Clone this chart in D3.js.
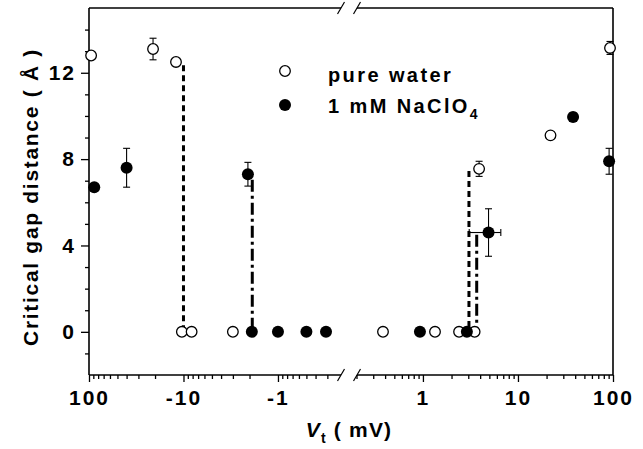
<!DOCTYPE html>
<html>
<head>
<meta charset="utf-8">
<script src="https://cdn.jsdelivr.net/npm/d3@7/dist/d3.min.js"></script>
<style>
  html, body { margin: 0; padding: 0; background: #fff; }
  svg { display: block; }
  text { font-family: Arial, "Liberation Sans", sans-serif; fill: #000; }
</style>
</head>
<body>
<svg id="chart" width="643" height="449"></svg>
<script>
// ---------- data ----------
// pure water (open circles): V_t in mV (signed), critical gap (Å), y-error
const pwV   = [-95, -21, -12, -10.4, -8.2, -3.0, 0.38, 1.34, 2.4, 3.5, 3.9, 22, 93];
const pwGap = [12.8, 13.1, 12.5, 0, 0, 0, 0, 0, 0, 0, 7.55, 9.1, 13.15];
const pwErr = [0, 0.5, 0.15, 0, 0, 0, 0, 0, 0, 0, 0.35, 0.1, 0.3];

// 1 mM NaClO4 (filled circles)
const naV   = [-88, -40, -2.08, -1.89, -1.0, -0.5, -0.31, 0.93, 2.9, 4.9, 38, 91];
const naGap = [6.7, 7.6, 7.3, 0, 0, 0, 0, 0, 0, 4.6, 9.95, 7.9];
const naErr = [0, 0.9, 0.55, 0, 0, 0, 0, 0, 0, 1.1, 0.2, 0.6];
const naXLo = [null, null, null, null, null, null, null, null, null, 3.07, null, null];
const naXHi = [null, null, null, null, null, null, null, null, null, 6.6, null, null];

// vertical transition lines
const pwDropV   = [-10, 3.05];
const pwDropTop = [12.35, 7.45];
const naDropV   = [-1.87, 3.68];
const naDropTop = [7.05, 4.5];

// axis ticks
const xMajorLeft  = [100, 10, 1];          // |V| on negative side
const xMajorLeftLabels = ["100", "-10", "-1"];
const xMajorRight = [1, 10, 100];
const xMajorRightLabels = ["1", "10", "100"];
const xMinorLeft  = [90,80,70,60,50,40,30,20, 9,8,7,6,5,4,3,2, 0.9,0.8,0.7,0.6,0.5,0.4,0.3];
const xMinorRight = [0.2,0.3,0.4,0.5,0.6,0.7,0.8,0.9, 2,3,4,5,6,7,8,9, 20,30,40,50,60,70,80,90];
const yMajor = [0, 4, 8, 12];
const yMinor = [-1, 1, 2, 3, 5, 6, 7, 9, 10, 11, 13, 14];

// ---------- layout ----------
const svg = d3.select("#chart");
const L = 89, R = 613, T = 8, B = 375;

const xl = d3.scaleLog().domain([100, 0.2]).range([L, 344]);
const xr = d3.scaleLog().domain([0.2, 100]).range([356.5, R]);
const xpos = v => v < 0 ? xl(-v) : xr(v);
const y = d3.scaleLinear().domain([-2, 15]).range([B, T]);

const brk1 = xl(0.2) - 3, brk2 = xr(0.2) + 0.5;

// axes (ticks only)
function tickAxis(axis, g) { g.call(axis); g.select(".domain").remove(); }

const fontTick = "bold 21px Arial, 'Liberation Sans', sans-serif";

tickAxis(d3.axisBottom(xl).tickValues(xMajorLeft).tickSize(7).tickPadding(8)
  .tickFormat((d, i) => xMajorLeftLabels[i]),
  svg.append("g").attr("transform", `translate(0,${B})`));
tickAxis(d3.axisBottom(xl).tickValues(xMinorLeft).tickSize(4).tickFormat(""),
  svg.append("g").attr("transform", `translate(0,${B})`));
tickAxis(d3.axisBottom(xr).tickValues(xMajorRight).tickSize(7).tickPadding(8)
  .tickFormat((d, i) => xMajorRightLabels[i]),
  svg.append("g").attr("transform", `translate(0,${B})`));
tickAxis(d3.axisBottom(xr).tickValues(xMinorRight).tickSize(4).tickFormat(""),
  svg.append("g").attr("transform", `translate(0,${B})`));
tickAxis(d3.axisLeft(y).tickValues(yMajor).tickSize(8).tickPadding(5).tickFormat(d3.format("d")),
  svg.append("g").attr("transform", `translate(${L},0)`));
tickAxis(d3.axisLeft(y).tickValues(yMinor).tickSize(4).tickFormat(""),
  svg.append("g").attr("transform", `translate(${L},0)`));

svg.selectAll(".tick line").attr("stroke", "#000").attr("stroke-width", 1.3);
svg.selectAll(".tick text")
  .style("font", fontTick).style("letter-spacing", "2px").attr("fill", "#000");

// frame
const frame = svg.append("g").attr("stroke", "#000").attr("stroke-width", 1.6).attr("fill", "none");
frame.append("line").attr("x1", L).attr("x2", L).attr("y1", T).attr("y2", B);
frame.append("line").attr("x1", R).attr("x2", R).attr("y1", T).attr("y2", B);
[T, B].forEach(yy => {
  frame.append("line").attr("x1", L).attr("x2", brk1).attr("y1", yy).attr("y2", yy);
  frame.append("line").attr("x1", brk2).attr("x2", R).attr("y1", yy).attr("y2", yy);
  [brk1, brk2].forEach(bx => {
    frame.append("line").attr("stroke-width", 1.2)
      .attr("x1", bx - 3.5).attr("y1", yy + 6).attr("x2", bx + 3.5).attr("y2", yy - 6);
  });
});

// transition lines
const lines = svg.append("g");
pwDropV.forEach((v, i) => {
  lines.append("line").attr("x1", xpos(v)).attr("x2", xpos(v))
    .attr("y1", y(pwDropTop[i])).attr("y2", y(0))
    .attr("stroke", "#000").attr("stroke-width", 3).attr("stroke-dasharray", "6,4");
});
naDropV.forEach((v, i) => {
  lines.append("line").attr("x1", xpos(v)).attr("x2", xpos(v))
    .attr("y1", y(naDropTop[i])).attr("y2", y(0))
    .attr("stroke", "#000").attr("stroke-width", 3).attr("stroke-dasharray", "12,4,3,4");
});

// error bars
const eb = svg.append("g").attr("stroke", "#000").attr("stroke-width", 1.1);
function yErr(v, g, e) {
  if (!e) return;
  const x = xpos(v);
  eb.append("line").attr("x1", x).attr("x2", x).attr("y1", y(g + e)).attr("y2", y(g - e));
  [g + e, g - e].forEach(t => eb.append("line").attr("x1", x - 3.5).attr("x2", x + 3.5).attr("y1", y(t)).attr("y2", y(t)));
}
pwV.forEach((v, i) => yErr(v, pwGap[i], pwErr[i]));
naV.forEach((v, i) => {
  yErr(v, naGap[i], naErr[i]);
  if (naXLo[i] != null) {
    const yy = y(naGap[i]);
    eb.append("line").attr("x1", xpos(naXLo[i])).attr("x2", xpos(naXHi[i])).attr("y1", yy).attr("y2", yy);
    [naXLo[i], naXHi[i]].forEach(t => eb.append("line").attr("x1", xpos(t)).attr("x2", xpos(t)).attr("y1", yy - 3.5).attr("y2", yy + 3.5));
  }
});

// markers
svg.append("g").selectAll("circle").data(pwV).join("circle")
  .attr("cx", d => xpos(d)).attr("cy", (d, i) => y(pwGap[i])).attr("r", 5.3)
  .attr("fill", "#fff").attr("stroke", "#000").attr("stroke-width", 1.3);
svg.append("g").selectAll("circle").data(naV).join("circle")
  .attr("cx", d => xpos(d)).attr("cy", (d, i) => y(naGap[i])).attr("r", 6)
  .attr("fill", "#000");

// legend
const lg = svg.append("g");
lg.append("circle").attr("cx", 285).attr("cy", 71).attr("r", 5.3)
  .attr("fill", "#fff").attr("stroke", "#000").attr("stroke-width", 1.3);
lg.append("circle").attr("cx", 285).attr("cy", 105).attr("r", 6).attr("fill", "#000");
lg.append("text").attr("x", 328).attr("y", 82)
  .style("font", "bold 20px Arial, 'Liberation Sans', sans-serif").style("letter-spacing", "2.4px")
  .text("pure water");
const t2 = lg.append("text").attr("x", 328).attr("y", 113)
  .style("font", "bold 20px Arial, 'Liberation Sans', sans-serif").style("letter-spacing", "2.4px");
t2.append("tspan").text("1 mM NaClO");
t2.append("tspan").attr("dy", 6).style("font-size", "14px").text("4");

// axis titles
svg.append("text").attr("transform", "translate(38,197) rotate(-90)")
  .attr("text-anchor", "middle")
  .style("font", "bold 21px Arial, 'Liberation Sans', sans-serif").style("letter-spacing", "1.7px")
  .text("Critical gap distance ( Å )");

const xt = svg.append("text").attr("x", 349).attr("y", 437).attr("text-anchor", "middle")
  .style("font", "bold 21px Arial, 'Liberation Sans', sans-serif").style("letter-spacing", "1.2px");
xt.append("tspan").style("font-style", "italic").text("V");
xt.append("tspan").attr("dy", 6).style("font-size", "14px").text("t");
xt.append("tspan").attr("dy", -6).text(" ( mV)");
</script>
</body>
</html>
